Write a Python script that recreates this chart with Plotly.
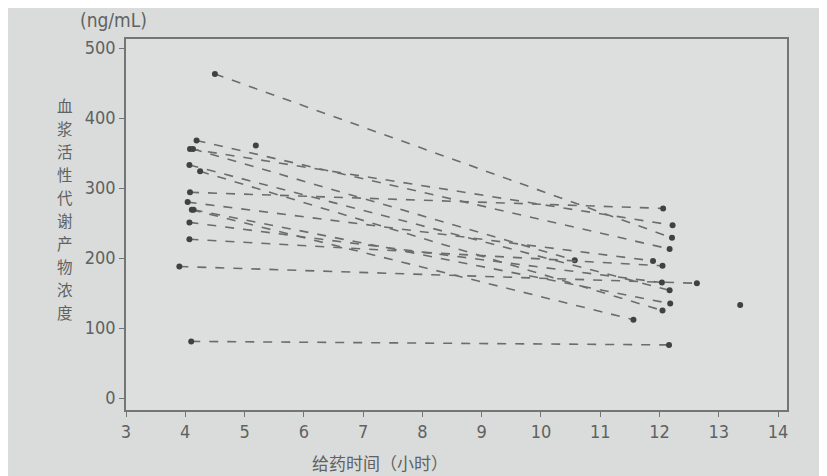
import plotly.graph_objects as go

# Paired measurements (early sample -> late sample), one dashed line per subject
start_time = [4.50, 4.19, 4.08, 4.13, 4.07, 4.25, 4.08, 4.04, 4.11, 4.14, 4.07, 4.07, 3.90, 4.10]
start_conc = [463, 368, 356, 356, 333, 324, 294, 280, 269, 269, 251, 227, 188, 81]
end_time = [12.21, 12.17, 12.22, 10.57, 12.17, 12.05, 12.06, 11.89, 11.56, 12.18, 12.04, 12.05, 12.63, 12.16]
end_conc = [229, 213, 247, 197, 154, 125, 271, 196, 112, 135, 165, 189, 164, 76]

# Unpaired single measurements
single_time = [5.19, 13.36]
single_conc = [361, 133]

x_ticks = [3, 4, 5, 6, 7, 8, 9, 10, 11, 12, 13, 14]
y_ticks = [0, 100, 200, 300, 400, 500]

x_title = "给药时间（小时）"
y_title = "血浆活性代谢产物浓度"
y_unit = "(ng/mL)"

BG = "#d9dcdb"
INK = "#5f6262"
LINE = "#6a6d6e"
DOT = "#3f4243"
NUM_FONT = "DejaVu Sans Condensed, Liberation Sans Narrow, Roboto, sans-serif"
CJK_FONT = "Noto Sans CJK SC, sans-serif"

fig = go.Figure()
for t0, c0, t1, c1 in zip(start_time, start_conc, end_time, end_conc):
    fig.add_trace(go.Scatter(
        x=[t0, t1], y=[c0, c1], mode="lines+markers",
        line=dict(color=LINE, width=1.6, dash="dash"),
        marker=dict(color=DOT, size=6),
        showlegend=False, hoverinfo="skip",
    ))
fig.add_trace(go.Scatter(
    x=single_time, y=single_conc, mode="markers",
    marker=dict(color=DOT, size=6), showlegend=False, hoverinfo="skip",
))

axis_common = dict(
    showline=True, linecolor="#737676", linewidth=1.5, mirror=True,
    ticks="outside", ticklen=5, tickcolor="#737676", tickwidth=1.2,
    showgrid=False, zeroline=False,
    tickfont=dict(family=NUM_FONT, size=18, color=INK),
)
fig.update_xaxes(range=[3, 14.15], tickvals=x_ticks, **axis_common)
fig.update_yaxes(range=[-17, 513], tickvals=y_ticks, **axis_common)

# vertical (stacked) y-axis title, one character per annotation
n = len(y_title)
for i, ch in enumerate(y_title):
    fig.add_annotation(
        text=ch, xref="paper", yref="paper",
        x=-0.092, y=0.543, yshift=-(i - (n - 1) / 2) * 23,
        xanchor="center", yanchor="middle", showarrow=False,
        font=dict(family=CJK_FONT, size=15.5, color=INK),
    )
fig.add_annotation(
    text=y_unit, xref="paper", yref="paper",
    x=0.035, y=1.0, xanchor="right", yanchor="bottom", yshift=6, showarrow=False,
    font=dict(family=NUM_FONT, size=19, color=INK),
)
fig.add_annotation(
    text=x_title, xref="paper", yref="paper",
    x=0.385, y=0, xanchor="center", yanchor="middle", yshift=-52, showarrow=False,
    font=dict(family=CJK_FONT, size=17, color=INK),
)

fig.update_layout(
    width=827, height=476,
    margin=dict(l=118, r=48, t=31, b=74),
    paper_bgcolor=BG, plot_bgcolor="#dcdfde",
)

fig.write_html("out.html")
